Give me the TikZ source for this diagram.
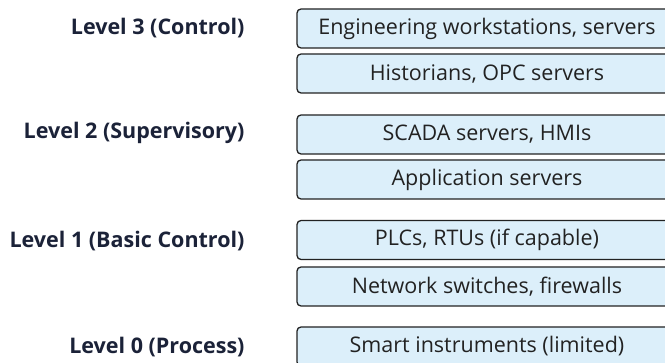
\documentclass[tikz,border=0pt]{standalone}
\usepackage{fontspec}
\setmainfont{Open Sans}
\definecolor{boxfill}{HTML}{DCEFFA}
\definecolor{boxline}{HTML}{222222}
\definecolor{levelink}{HTML}{1B2238}
\begin{document}
\begin{tikzpicture}[x=1pt, y=-1pt,
        layer/.style = {draw=boxline, line width=1.3pt, fill=boxfill, rounded corners=4pt,
                        minimum width=380pt, minimum height=39pt, inner sep=0pt,
                        text=boxline, font=\fontsize{21.5}{25}\selectfont},
        level/.style = {anchor=east, text=levelink, font=\fontsize{21.5}{25}\selectfont\bfseries},
    ]
    \useasboundingbox (0,0) rectangle (665,363);
    \node (l3) at (248,28) [level] {Level 3 (Control)};
    \node (l2) at (248,133) [level] {Level 2 (Supervisory)};
    \node (l1) at (248,241) [level] {Level 1 (Basic Control)};
    \node (l0) at (248,347) [level] {Level 0 (Process)};

    \node (b1) at (487,28.5) [layer] {Engineering workstations, servers};
    \node (b2) at (487,73.5) [layer] {Historians, OPC servers};
    \node (b3) at (487,134.5) [layer] {SCADA servers, HMIs};
    \node (b4) at (487,179.5) [layer] {Application servers};
    \node (b5) at (487,240) [layer] {PLCs, RTUs (if capable)};
    \node (b6) at (487,286.5) [layer] {Network switches, firewalls};
    \node (b7) at (487,346.5) [layer] {Smart instruments (limited)};
\end{tikzpicture}
\end{document}
